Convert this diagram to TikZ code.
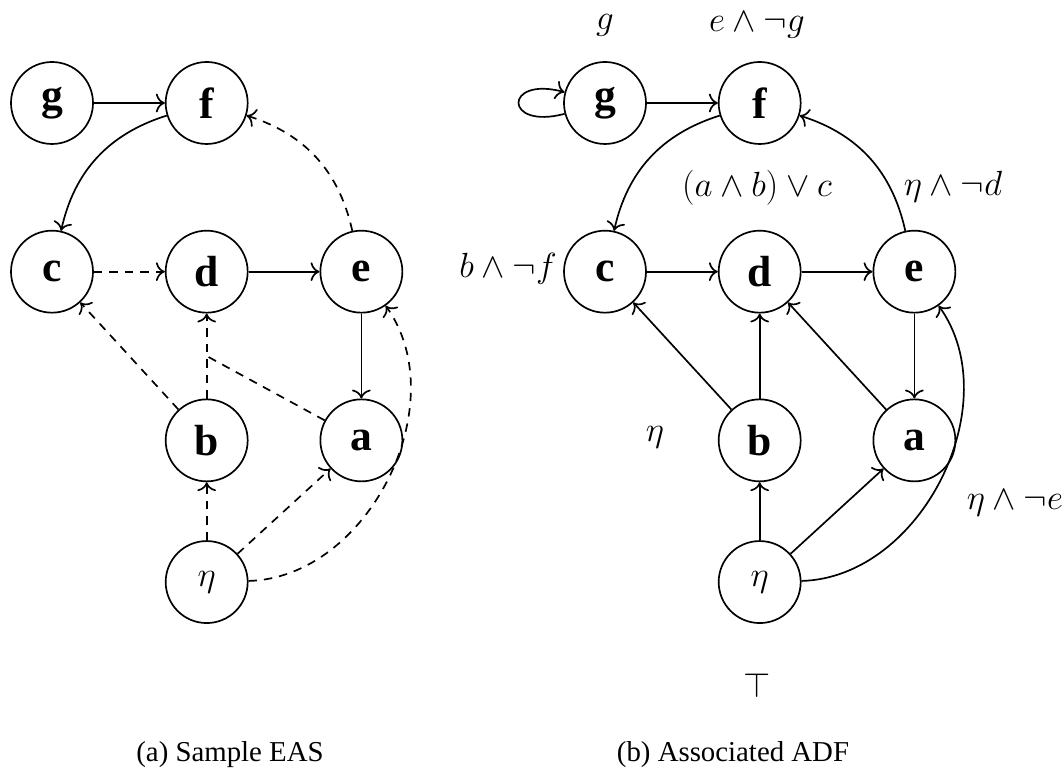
\documentclass[tikz,border=0pt]{standalone}
\usepackage[no-math]{fontspec}
\setmainfont{Liberation Serif}
\usetikzlibrary{positioning, arrows.meta}

\begin{document}
\begin{tikzpicture}[
		node distance=2.125cm and 1.775cm,
		arg/.style={circle, draw, line width=1.2pt, minimum size=2.05cm, inner sep=0pt,
			font=\fontsize{31}{35}\selectfont\bfseries},
		cond/.style={font=\fontsize{23}{27}\selectfont, inner sep=1pt},
		capt/.style={font=\fontsize{20.5}{24}\selectfont},
		att/.style={-{To[scale=1.5]}, line width=1.2pt},
		sup/.style={line width=1.2pt, dash pattern=on 6pt off 5pt},
		dsup/.style={sup, -{To[scale=1.5]}},
		]
		\useasboundingbox (0,0) rectangle (26.575,19.35);
		% ── (a) Sample EAS ───────────────────────────────────────────────────────────
		\node[arg] at (1.3,16.775)        (eas-g)   {g};
		\node[arg, right=of eas-g]        (eas-f)   {f};
		\node[arg, below=of eas-g]        (eas-c)   {c};
		\node[arg, right=of eas-c]        (eas-d)   {d};
		\node[arg, right=of eas-d]        (eas-e)   {e};
		\node[arg, below=of eas-d]        (eas-b)   {b};
		\node[arg, right=of eas-b]        (eas-a)   {a};
		\node[arg, below=1.45cm of eas-b] (eas-eta) {$\eta$};
		\path (eas-b) -- coordinate[midway] (eas-bd) (eas-d);
		% attacks
		\draw[att] (eas-g) -- (eas-f);
		\draw[att] (eas-f) to[bend right=30] (eas-c);
		\draw[att] (eas-d) -- (eas-e);
		\draw[att] (eas-e) -- (eas-a);
		% supports
		\foreach \x/\y in {c/d, b/c, b/d, eta/b, eta/a}
		\draw[dsup] (eas-\x) -- (eas-\y);
		\draw[dsup] (eas-e) to[bend right=30] (eas-f);
		\draw[dsup] (eas-eta) to[bend right=62] (eas-e);
		\draw[sup] (eas-a) -- (eas-bd);
		\node[capt] at (5.75,0.475) (capt-a) {(a) Sample EAS};
		% ── (b) Associated ADF ───────────────────────────────────────────────────────
		\node[arg] at (15.125,16.775)     (adf-g)   {g};
		\node[arg, right=of adf-g]        (adf-f)   {f};
		\node[arg, below=of adf-g]        (adf-c)   {c};
		\node[arg, right=of adf-c]        (adf-d)   {d};
		\node[arg, right=of adf-d]        (adf-e)   {e};
		\node[arg, below=of adf-d]        (adf-b)   {b};
		\node[arg, right=of adf-b]        (adf-a)   {a};
		\node[arg, below=1.45cm of adf-b] (adf-eta) {$\eta$};
		% acceptance conditions
		\node[cond] at (15.125,18.72) (acc-g)   {$g$};
		\node[cond] at (18.925,18.72) (acc-f)   {$e\land\neg g$};
		\node[cond] at (18.925,14.65) (acc-d)   {$(a\land b)\lor c$};
		\node[cond] at (23.825,14.67) (acc-e)   {$\eta\land\neg d$};
		\node[cond] at (12.7,12.62)   (acc-c)   {$b\land\neg f$};
		\node[cond] at (16.375,8.425) (acc-b)   {$\eta$};
		\node[cond] at (25.375,6.775) (acc-a)   {$\eta\land\neg e$};
		\node[cond] at (18.925,2.225) (acc-eta) {$\top$};
		% links
		\draw[att] (adf-g) to[out=195, in=165, looseness=7.5] (adf-g);
		\foreach \x/\y in {g/f, c/d, d/e, e/a, b/c, b/d, a/d, eta/b, eta/a}
		\draw[att] (adf-\x) -- (adf-\y);
		\draw[att] (adf-f) to[bend right=30] (adf-c);
		\draw[att] (adf-e) to[bend right=30] (adf-f);
		\draw[att] (adf-eta) to[bend right=62] (adf-e);
		\node[capt] at (18.325,0.475) (capt-b) {(b) Associated ADF};
	\end{tikzpicture}
\end{document}
